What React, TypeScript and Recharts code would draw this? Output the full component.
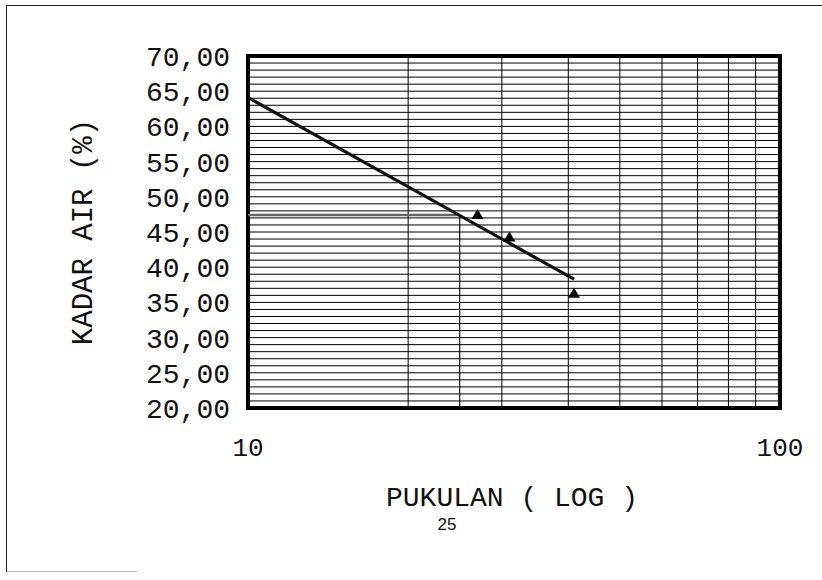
import React from "react";
import {
  ScatterChart,
  Scatter,
  XAxis,
  YAxis,
  CartesianGrid,
  ReferenceLine,
  ReferenceArea,
} from "recharts";

// Data
const pukulan = [27, 31, 41];
const kadarAir = [47.5, 44.3, 36.3];

const trendPukulan = [10, 41];
const trendKadar = [64.1, 38.3];

const batasPukulan = 25;
const batasKadar = 47.4;

// Axis ticks
const xTicks = [10, 20, 30, 40, 50, 60, 70, 80, 90, 100];
const xLabelTicks = [10, 100];
const yLabelTicks = [20, 25, 30, 35, 40, 45, 50, 55, 60, 65, 70];
const yGridTicks = Array.from({ length: 51 }, (_, i) => 20 + i);

const points = pukulan.map((x, i) => ({ x, y: kadarAir[i] }));
const trend = trendPukulan.map((x, i) => ({ x, y: trendKadar[i] }));

const MONO = "'Liberation Mono', 'DejaVu Sans Mono', monospace";

const fmt = (v: number) => v.toFixed(2).replace(".", ",");

const YTick = (props: any) => {
  const { x, y, payload } = props;
  if (!yLabelTicks.includes(payload.value)) return <g />;
  return (
    <text
      x={x}
      y={y}
      dy="0.36em"
      textAnchor="end"
      fontFamily={MONO}
      fontSize={28}
      fill="#111"
    >
      {fmt(payload.value)}
    </text>
  );
};

const XTick = (props: any) => {
  const { x, y, payload } = props;
  if (!xLabelTicks.includes(payload.value)) return <g />;
  return (
    <text
      x={x}
      y={y}
      dy="0.36em"
      textAnchor="middle"
      fontFamily={MONO}
      fontSize={26}
      fill="#111"
    >
      {payload.value}
    </text>
  );
};

const Triangle = (props: any) => {
  const { cx, cy } = props;
  if (cx == null || cy == null) return <g />;
  return (
    <polygon
      points={`${cx - 6},${cy + 4.5} ${cx + 6},${cy + 4.5} ${cx},${cy - 5.5}`}
      fill="#000"
    />
  );
};

const Empty = () => <g />;

export default function App() {
  return (
    <div
      style={{
        position: "absolute",
        left: 0,
        top: 0,
        width: 822,
        height: 580,
        background: "#fff",
      }}
    >
      <div
        style={{
          position: "absolute",
          left: 6,
          top: 5,
          width: 830,
          height: 566,
          borderLeft: "1.5px solid #222",
          borderTop: "1.5px solid #222",
        }}
      />
      <div
        style={{
          position: "absolute",
          left: 7,
          top: 571,
          width: 130,
          height: 0,
          borderTop: "1.5px solid #bbb",
        }}
      />
      <ScatterChart
        width={822}
        height={580}
        margin={{ top: 56, right: 42, bottom: 112, left: 0 }}
        style={{ position: "absolute", left: 0, top: 0 }}
      >
        <CartesianGrid stroke="#000" strokeWidth={1} />
        <XAxis
          type="number"
          dataKey="x"
          scale="log"
          domain={[10, 100]}
          ticks={xTicks}
          interval={0}
          allowDataOverflow
          axisLine={false}
          tickLine={false}
          tickSize={0}
          tickMargin={39}
          height={60}
          tick={<XTick />}
        />
        <YAxis
          type="number"
          dataKey="y"
          domain={[20, 70]}
          ticks={yGridTicks}
          interval={0}
          allowDataOverflow
          axisLine={false}
          tickLine={false}
          tickSize={0}
          tickMargin={18}
          width={248}
          tick={<YTick />}
        />
        <ReferenceLine
          segment={[
            { x: 10, y: batasKadar },
            { x: batasPukulan, y: batasKadar },
          ]}
          stroke="#666"
          strokeWidth={2.5}
        />
        <ReferenceLine
          segment={[
            { x: batasPukulan, y: 20 },
            { x: batasPukulan, y: batasKadar },
          ]}
          stroke="#111"
          strokeWidth={1.2}
        />
        <Scatter
          data={trend}
          line={{ stroke: "#111", strokeWidth: 3.2 }}
          shape={<Empty />}
          isAnimationActive={false}
        />
        <Scatter
          data={points}
          shape={<Triangle />}
          isAnimationActive={false}
        />
        <ReferenceArea
          x1={10}
          x2={100}
          y1={20}
          y2={70}
          fill="none"
          fillOpacity={0}
          stroke="#000"
          strokeWidth={4}
        />
      </ScatterChart>
      <svg
        width={822}
        height={580}
        style={{ position: "absolute", left: 0, top: 0, pointerEvents: "none" }}
      >
        <text
          x={84}
          y={232}
          transform="rotate(-90 84 232)"
          textAnchor="middle"
          dominantBaseline="central"
          fontFamily={MONO}
          fontSize={29}
          fill="#111"
        >
          KADAR AIR (%)
        </text>
        <text
          x={512}
          y={498}
          textAnchor="middle"
          dominantBaseline="central"
          fontFamily={MONO}
          fontSize={28}
          fill="#111"
        >
          PUKULAN ( LOG )
        </text>
        <text
          x={447}
          y={524}
          textAnchor="middle"
          dominantBaseline="central"
          fontFamily="'Liberation Sans', Arial, sans-serif"
          fontSize={17}
          fill="#111"
        >
          25
        </text>
      </svg>
    </div>
  );
}
